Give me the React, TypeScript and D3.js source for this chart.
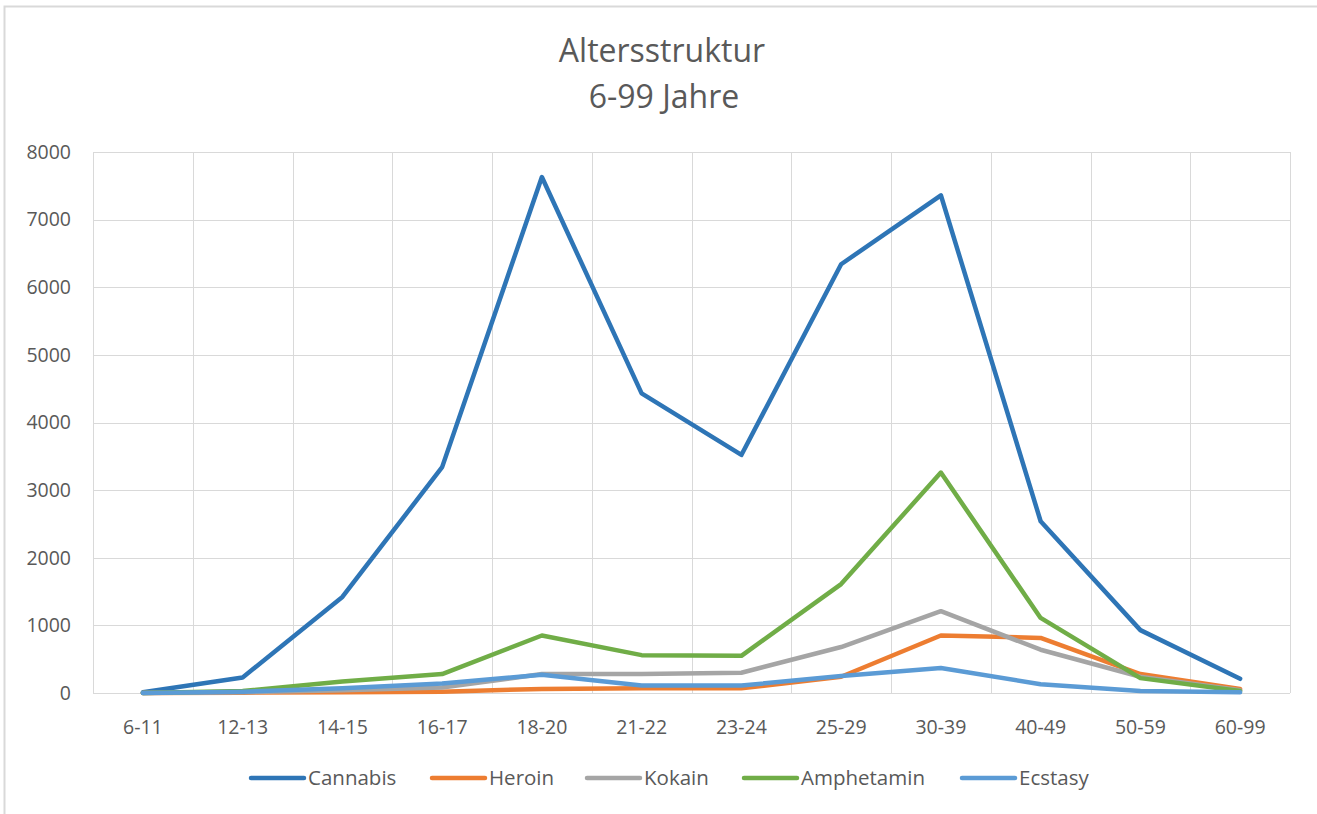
import React, { useEffect, useRef } from 'react';
import * as d3 from 'd3';

// Altersgruppen
const categories = ['6-11', '12-13', '14-15', '16-17', '18-20', '21-22', '23-24', '25-29', '30-39', '40-49', '50-59', '60-99'];

const cannabis = [10, 230, 1420, 3340, 7630, 4430, 3520, 6340, 7360, 2540, 930, 210];
const heroin = [0, 5, 10, 20, 60, 70, 70, 240, 850, 815, 280, 60];
const kokain = [0, 10, 40, 80, 280, 280, 300, 680, 1210, 640, 240, 40];
const amphetamin = [0, 30, 170, 280, 850, 560, 550, 1610, 3260, 1110, 220, 30];
const ecstasy = [0, 20, 70, 140, 270, 110, 110, 250, 370, 130, 30, 10];

const seriesNames = ['Cannabis', 'Heroin', 'Kokain', 'Amphetamin', 'Ecstasy'];
const seriesColors = ['#2E75B6', '#ED7D31', '#A5A5A5', '#70AD47', '#5B9BD5'];
const yTicks = [0, 1000, 2000, 3000, 4000, 5000, 6000, 7000, 8000];

const W = 1317;
const H = 814;

const App = () => {
    const svgRef = useRef(null);

    useEffect(() => {
        const svg = d3.select(svgRef.current);
        svg.selectAll('*').remove();

        const font = "'Open Sans', sans-serif";
        const margin = { top: 152, right: 27, bottom: 121, left: 93 };
        const innerWidth = W - margin.left - margin.right;
        const innerHeight = H - margin.top - margin.bottom;

        // Rahmen
        svg.append('rect')
            .attr('x', 4.5).attr('y', 6.5)
            .attr('width', W + 10).attr('height', H + 10)
            .attr('fill', '#fff')
            .attr('stroke', '#d9d9d9')
            .attr('stroke-width', 2);

        // Titel
        const title = svg.append('text')
            .attr('text-anchor', 'middle')
            .attr('fill', '#595959')
            .style('font-family', font)
            .style('font-size', '32px');
        title.append('tspan').attr('x', 662).attr('y', 62).text('Altersstruktur');
        title.append('tspan').attr('x', 664).attr('y', 108).text('6-99 Jahre');

        const xScale = d3.scaleBand().domain(categories).range([0, innerWidth]);
        const yScale = d3.scaleLinear().domain([0, 8000]).range([innerHeight, 0]);

        const g = svg.append('g').attr('transform', `translate(${margin.left},${margin.top})`);

        // Gitternetz horizontal
        g.selectAll('.hgrid')
            .data(yTicks)
            .enter()
            .append('line')
            .attr('x1', 0).attr('x2', innerWidth)
            .attr('y1', d => Math.round(yScale(d)) + 0.5)
            .attr('y2', d => Math.round(yScale(d)) + 0.5)
            .attr('stroke', '#d9d9d9')
            .attr('stroke-width', 1);

        // Gitternetz vertikal
        const bounds = categories.map(c => xScale(c)).concat([innerWidth]);
        g.selectAll('.vgrid')
            .data(bounds)
            .enter()
            .append('line')
            .attr('x1', d => Math.round(d) + 0.5)
            .attr('x2', d => Math.round(d) + 0.5)
            .attr('y1', 0).attr('y2', innerHeight)
            .attr('stroke', '#d9d9d9')
            .attr('stroke-width', 1);

        // y-Achse
        g.selectAll('.ylab')
            .data(yTicks)
            .enter()
            .append('text')
            .attr('x', -22)
            .attr('y', d => yScale(d))
            .attr('dy', '0.35em')
            .attr('text-anchor', 'end')
            .attr('fill', '#595959')
            .style('font-family', font)
            .style('font-size', '19.5px')
            .text(d => d);

        // x-Achse
        g.selectAll('.xlab')
            .data(categories)
            .enter()
            .append('text')
            .attr('x', d => xScale(d) + xScale.bandwidth() / 2)
            .attr('y', innerHeight + 41)
            .attr('text-anchor', 'middle')
            .attr('fill', '#595959')
            .style('font-family', font)
            .style('font-size', '19.5px')
            .text(d => d);

        const line = d3.line()
            .x((_, i) => xScale(categories[i]) + xScale.bandwidth() / 2)
            .y(d => yScale(d));

        const allSeries = [cannabis, heroin, kokain, amphetamin, ecstasy];
        allSeries.forEach((data, i) => {
            g.append('path')
                .datum(data)
                .attr('fill', 'none')
                .attr('stroke', seriesColors[i])
                .attr('stroke-width', 4.5)
                .attr('stroke-linejoin', 'round')
                .attr('stroke-linecap', 'round')
                .attr('d', line);
        });

        // Legende
        const legendX = [251, 432, 587, 744, 962];
        const legend = svg.append('g').attr('transform', 'translate(0,778)');
        seriesNames.forEach((name, i) => {
            legend.append('line')
                .attr('x1', legendX[i]).attr('x2', legendX[i] + 53)
                .attr('y1', 0).attr('y2', 0)
                .attr('stroke', seriesColors[i])
                .attr('stroke-width', 4.5)
                .attr('stroke-linecap', 'round');
            legend.append('text')
                .attr('x', legendX[i] + 57)
                .attr('y', 0)
                .attr('dy', '0.35em')
                .attr('fill', '#595959')
                .style('font-family', font)
                .style('font-size', '20.5px')
                .text(name);
        });
    }, []);

    return (
        <svg ref={svgRef} width={W} height={H} style={{ position: 'absolute', left: 0, top: 0 }} />
    );
};

export default App;
